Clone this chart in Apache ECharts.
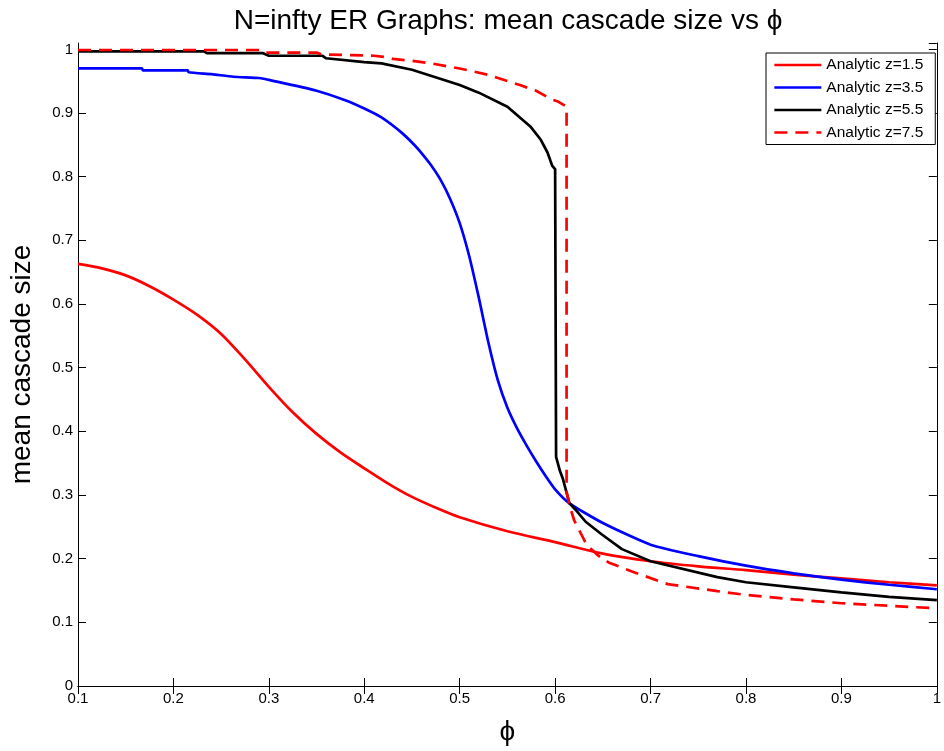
<!DOCTYPE html>
<html>
<head>
<meta charset="utf-8">
<script src="https://cdn.jsdelivr.net/npm/echarts@6/dist/echarts.min.js"></script>
<style>
html,body{margin:0;padding:0;background:#fff;}
#chart{width:944px;height:751px;}
</style>
</head>
<body>
<div id="chart"></div>
<script>
// ---- data ----
const seriesNames = ["Analytic z=1.5", "Analytic z=3.5", "Analytic z=5.5", "Analytic z=7.5"];

const phiZ15 = [0.1,0.125,0.15,0.175,0.2,0.225,0.25,0.275,0.3,0.325,0.35,0.375,0.4,0.425,0.45,0.475,0.5,0.55,0.6,0.65,0.7,0.75,0.8,0.85,0.9,0.95,1.0];
const valZ15 = [0.663,0.656,0.645,0.628,0.607,0.583,0.553,0.513,0.470,0.430,0.396,0.367,0.342,0.318,0.297,0.28,0.265,0.243,0.226,0.208,0.196,0.188,0.182,0.175,0.169,0.163,0.158];

const phiZ35 = [0.1,0.167,0.168,0.215,0.216,0.24,0.263,0.29,0.3,0.35,0.38,0.4,0.418,0.44,0.453,0.46,0.47,0.48,0.49,0.5,0.51,0.52,0.53,0.54,0.55,0.56,0.57,0.58,0.59,0.6,0.615,0.65,0.7,0.75,0.8,0.85,0.9,0.95,1.0];
const valZ35 = [0.970,0.970,0.967,0.967,0.964,0.961,0.957,0.955,0.952,0.935,0.92,0.907,0.893,0.868,0.849,0.837,0.818,0.795,0.765,0.727,0.675,0.61,0.54,0.48,0.437,0.405,0.378,0.353,0.33,0.309,0.287,0.256,0.222,0.204,0.189,0.177,0.167,0.159,0.152];

const phiZ55 = [0.1,0.232,0.235,0.294,0.3,0.356,0.36,0.4,0.418,0.45,0.5,0.52,0.55,0.574,0.585,0.592,0.597,0.6,0.601,0.605,0.608,0.615,0.622,0.632,0.649,0.67,0.7,0.77,0.8,0.85,0.9,0.95,1.0];
const valZ55 = [0.997,0.997,0.994,0.994,0.99,0.99,0.986,0.98,0.978,0.968,0.944,0.932,0.91,0.879,0.858,0.838,0.817,0.812,0.36,0.338,0.326,0.287,0.276,0.258,0.238,0.215,0.196,0.171,0.163,0.155,0.147,0.14,0.135];

const phiZ75 = [0.1,0.29,0.295,0.35,0.355,0.41,0.422,0.43,0.45,0.47,0.5,0.53,0.563,0.58,0.597,0.603,0.612,0.612,0.615,0.62,0.633,0.645,0.656,0.684,0.718,0.77,0.8,0.85,0.9,0.95,1.0];
const valZ75 = [0.999,0.999,0.995,0.995,0.992,0.99,0.988,0.985,0.982,0.978,0.97,0.96,0.944,0.935,0.921,0.918,0.91,0.305,0.284,0.26,0.222,0.205,0.194,0.178,0.16,0.149,0.143,0.136,0.13,0.126,0.122];

const xTicks = ["0.1","0.2","0.3","0.4","0.5","0.6","0.7","0.8","0.9","1"];
const yTicks = ["0","0.1","0.2","0.3","0.4","0.5","0.6","0.7","0.8","0.9","1"];

// ---- build ----
const zip = (xs, ys) => xs.map((x, i) => [x, ys[i]]);
const FONT = '"Liberation Sans", Arial, sans-serif';

const chart = echarts.init(document.getElementById('chart'), null, {renderer: 'canvas'});

function xFmt(v) {
  const i = Math.round(v * 10) - 1;
  return xTicks[i] !== undefined ? xTicks[i] : '';
}
function yFmt(v) {
  if (v > 1.0001) return '';
  const i = Math.round(v * 10);
  return yTicks[i] !== undefined ? yTicks[i] : '';
}

const axisLine = {show: true, lineStyle: {color: '#000', width: 1}};
const axisTick = {show: true, inside: true, length: 8, lineStyle: {color: '#000', width: 1}};
const LW = 2.7;

const lineSeries = (name, data, color, dash, smooth) => ({
  name: name,
  type: 'line',
  data: data,
  symbol: 'none',
  showSymbol: false,
  smooth: smooth,
  animation: false,
  clip: true,
  lineStyle: {color: color, width: LW, type: dash ? [13, 8] : 'solid'},
  itemStyle: {color: color}
});

chart.setOption({
  backgroundColor: '#fff',
  animation: false,
  title: {
    text: 'N=infty ER Graphs: mean cascade size vs \u03D5',
    left: 503, textAlign: 'center', top: 2,
    textStyle: {fontFamily: FONT, fontSize: 28, fontWeight: 'normal', color: '#000'}
  },
  legend: {
    orient: 'vertical',
    left: 766, top: 53,
    padding: [4, 12, 4, 7],
    itemWidth: 47, itemHeight: 14, itemGap: 6.5,
    backgroundColor: '#fff',
    borderColor: '#000', borderWidth: 1, borderRadius: 0,
    itemStyle: {color: 'rgba(0,0,0,0)', borderWidth: 0, opacity: 0},
    lineStyle: {width: LW},
    textStyle: {fontFamily: FONT, fontSize: 15.5, color: '#000'},
    data: seriesNames
  },
  grid: {left: 72, right: 2, top: 43, bottom: 58, containLabel: false},
  xAxis: [{
    type: 'value', min: 0.1, max: 1.0, interval: 0.1,
    name: '\u03D5', nameLocation: 'middle', nameGap: 32,
    nameTextStyle: {fontFamily: FONT, fontSize: 28, color: '#000'},
    axisLine: axisLine, axisTick: axisTick, splitLine: {show: false},
    axisLabel: {formatter: xFmt, fontFamily: FONT, fontSize: 15, color: '#000', margin: 5, showMinLabel: true, showMaxLabel: true}
  }, {
    type: 'value', min: 0.1, max: 1.0, interval: 0.1, position: 'top',
    axisLine: axisLine, axisTick: axisTick, splitLine: {show: false},
    axisLabel: {show: false}
  }],
  yAxis: [{
    type: 'value', min: 0, max: 1.01, interval: 0.1,
    name: 'mean cascade size', nameLocation: 'middle', nameGap: 42,
    nameTextStyle: {fontFamily: FONT, fontSize: 28, color: '#000'},
    axisLine: axisLine, axisTick: axisTick, splitLine: {show: false},
    axisLabel: {formatter: yFmt, fontFamily: FONT, fontSize: 15, color: '#000', margin: 5, showMaxLabel: false}
  }, {
    type: 'value', min: 0, max: 1.01, interval: 0.1, position: 'right',
    axisLine: axisLine, axisTick: axisTick, splitLine: {show: false},
    axisLabel: {show: false}
  }],
  series: [
    lineSeries(seriesNames[0], zip(phiZ15, valZ15), '#ff0000', false, 0.3),
    lineSeries(seriesNames[1], zip(phiZ35, valZ35), '#0000ff', false, 0.2),
    lineSeries(seriesNames[2], zip(phiZ55, valZ55), '#000000', false, false),
    lineSeries(seriesNames[3], zip(phiZ75, valZ75), '#ff0000', true, false)
  ]
});
</script>
</body>
</html>
